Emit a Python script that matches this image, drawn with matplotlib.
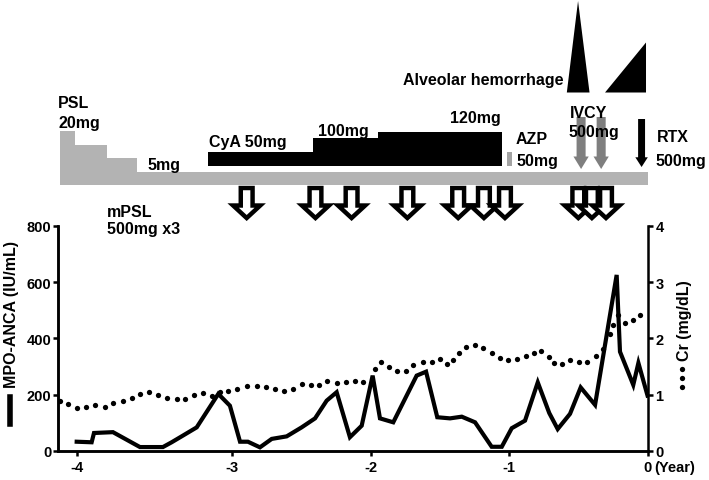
"""
Clinical course: treatment timeline (top) with MPO-ANCA and serum Cr (bottom)
"""

from matplotlib import pyplot as plt
from matplotlib.lines import Line2D

plt.rcParams['font.family'] = ['Liberation Sans', 'DejaVu Sans']
plt.rcParams['font.weight'] = 'bold'

# ---- lab values (x in years before last visit) ----
anca_x = [-4.124, -4.016, -3.999, -3.862, -3.667, -3.501, -3.438, -3.366,
          -3.257, -3.101, -3.017, -2.944, -2.887, -2.800, -2.715, -2.607,
          -2.499, -2.402, -2.318, -2.246, -2.150, -2.065, -1.986, -1.933,
          -1.837, -1.668, -1.600, -1.519, -1.427, -1.342, -1.246, -1.126,
          -1.053, -0.981, -0.885, -0.793, -0.710, -0.649, -0.560, -0.483,
          -0.379, -0.223, -0.199, -0.103, -0.066, 0.0]
anca_y = [33, 31, 64, 67, 14, 14, 31, 52, 84, 203, 161, 33, 33, 13, 43, 52,
          84, 116, 179, 209, 49, 90, 268, 116, 102, 268, 282, 120, 116, 122,
          102, 15, 15, 81, 108, 244, 135, 78, 132, 226, 164, 626, 353, 235,
          313, 197]

cr_x = [-4.245, -4.185, -4.121, -4.057, -3.992, -3.920, -3.860, -3.788,
        -3.727, -3.667, -3.600, -3.535, -3.474, -3.402, -3.342, -3.275,
        -3.210, -3.149, -3.089, -3.029, -2.964, -2.896, -2.824, -2.756,
        -2.691, -2.626, -2.564, -2.499, -2.434, -2.374, -2.314, -2.246,
        -2.178, -2.113, -2.053, -1.969, -1.928, -1.866, -1.812, -1.745,
        -1.692, -1.624, -1.559, -1.499, -1.447, -1.403, -1.360, -1.311,
        -1.246, -1.186, -1.126, -1.066, -1.010, -0.945, -0.878, -0.818,
        -0.769, -0.714, -0.673, -0.616, -0.560, -0.497, -0.435, -0.372,
        -0.319, -0.271, -0.247, -0.211, -0.163, -0.103, -0.054]
cr_y = [0.89, 0.84, 0.76, 0.79, 0.82, 0.79, 0.85, 0.89, 0.95, 1.01, 1.05,
        1.00, 0.94, 0.92, 0.92, 0.99, 1.03, 0.98, 1.04, 1.07, 1.11, 1.16,
        1.16, 1.14, 1.10, 1.06, 1.10, 1.19, 1.18, 1.18, 1.25, 1.21, 1.23,
        1.25, 1.23, 1.46, 1.58, 1.49, 1.42, 1.42, 1.53, 1.58, 1.58, 1.64,
        1.54, 1.62, 1.75, 1.84, 1.89, 1.83, 1.74, 1.65, 1.61, 1.64, 1.68,
        1.75, 1.78, 1.67, 1.56, 1.54, 1.62, 1.59, 1.59, 1.69, 1.81, 2.08,
        2.24, 2.42, 2.28, 2.32, 2.42]

xtick_pos = [-4.124, -3, -2, -1, 0]
xtick_lab = ['-4', '-3', '-2', '-1', '0']

# ---- treatments ----
psl_start = [-4.245, -4.137, -3.905, -3.689]
psl_end = [-4.137, -3.905, -3.689, 0.0]
psl_dose = [20, 15, 10, 5]

cya_start = [-3.175, -2.417, -1.947]
cya_end = [-2.417, -1.947, -1.051]
cya_dose = [50, 100, 120]

azp_start, azp_end, azp_dose = -1.015, -0.979, 50

mpsl_pulse = [-2.896, -2.399, -2.138, -1.735, -1.368, -1.182, -1.030,
              -0.500, -0.402, -0.300]
ivcy_day = [-0.480, -0.335]
rtx_day = [-0.043]

hem_start = [-0.583, -0.307]
hem_peak = [-0.502, -0.011]
hem_end = [-0.419, -0.011]
hem_size = [91.5, 50]

XMIN = -4.257

fig = plt.figure(figsize=(7.09, 4.81), dpi=100)
ax = fig.add_axes([0.0822, 0.0603, 0.8311, 0.4678])
ax2 = ax.twinx()
top = fig.add_axes([0.0822, 0.5218, 0.8311, 0.4782])

# ---- lower panel ----
ax.plot(anca_x, anca_y, '-', color='black', lw=3, solid_joinstyle='miter',
        zorder=3)
ax2.plot(cr_x, cr_y, 'o', color='black', ms=3.8, mew=0)

ax.set_xlim(XMIN, 0)
ax.set_ylim(0, 800)
ax2.set_ylim(0, 4)
ax.set_yticks([0, 200, 400, 600, 800])
ax2.set_yticks([0, 1, 2, 3, 4])
ax.set_xticks(xtick_pos)
ax.set_xticklabels(xtick_lab)

for a in (ax, ax2):
    a.spines['top'].set_visible(False)
    for s in a.spines.values():
        s.set_linewidth(1.8)
    a.tick_params(direction='out', length=3.6, width=1.8, labelsize=10.5)
ax.spines['right'].set_visible(False)
ax.tick_params(axis='y', pad=1.5)
ax.tick_params(axis='x', pad=3)
ax2.tick_params(axis='y', pad=2)

ax.annotate('(Year)', xy=(0, 0), xycoords=('data', 'axes fraction'),
            xytext=(4.5, -6.6), textcoords='offset points', ha='left',
            va='top', fontsize=10.5)

fig.text(12 / 709, 1 - 388 / 481, 'MPO-ANCA (IU/mL)', rotation=90,
         ha='center', va='bottom', fontsize=11.5)
fig.add_artist(Line2D([10 / 709, 10 / 709], [1 - 398 / 481, 1 - 425 / 481],
                      lw=4, color='black', transform=fig.transFigure))
fig.text(684 / 709, 1 - 361 / 481, 'Cr (mg/dL)', rotation=90,
         ha='center', va='bottom', fontsize=11.5)
fig.add_artist(Line2D([682 / 709] * 3,
                      [1 - 370 / 481, 1 - 379 / 481, 1 - 388 / 481],
                      ls='none', marker='o', ms=3.8, mew=0, color='black',
                      transform=fig.transFigure))

# ---- top panel: treatment schematic (1 unit = 1 px) ----
top.set_xlim(XMIN, 0)
top.set_ylim(0, 230)
top.axis('off')

PSL_BASE, PSL_SCALE = 44, 2.7
CYA_BASE, CYA_SCALE = 63, 0.285

top.bar(psl_start, [PSL_SCALE * d for d in psl_dose],
        width=[e - s for s, e in zip(psl_start, psl_end)], bottom=PSL_BASE,
        align='edge', color='#b3b3b3', linewidth=0)
top.bar(cya_start, [CYA_SCALE * d for d in cya_dose],
        width=[e - s for s, e in zip(cya_start, cya_end)], bottom=CYA_BASE,
        align='edge', color='black', linewidth=0)
top.bar(azp_start, CYA_SCALE * azp_dose, width=azp_end - azp_start,
        bottom=CYA_BASE, align='edge', color='#a3a3a3', linewidth=0)

HEM_BASE = 136.5
for s, p, e, h in zip(hem_start, hem_peak, hem_end, hem_size):
    top.fill([s, p, e], [HEM_BASE, HEM_BASE + h, HEM_BASE], color='black',
             linewidth=0)


def block_arrow(x, y_from, y_to, style, **kw):
    top.annotate('', xy=(x, y_to), xytext=(x, y_from), annotation_clip=False,
                 arrowprops=dict(arrowstyle=style, shrinkA=0, shrinkB=0,
                                 mutation_scale=10, **kw))


for x in mpsl_pulse:
    block_arrow(x, 41, 11,
                'simple,head_length=0.9,head_width=1.95,tail_width=0.85',
                fc='white', ec='black', lw=3.2, joinstyle='miter')
for x in ivcy_day:
    block_arrow(x, 112, 60,
                'simple,head_length=0.9,head_width=1.1,tail_width=0.65',
                fc='#7f7f7f', ec='none', lw=0)
for x in rtx_day:
    block_arrow(x, 110, 62,
                'simple,head_length=0.7,head_width=0.9,tail_width=0.5',
                fc='black', ec='none', lw=0)

fs = 11.5
labels = [
    (-4.257, 127, 'PSL', 'left'),
    (-4.257, 107, '20mg', 'left'),
    (-3.616, 65, '5mg', 'left'),
    (-3.168, 88, 'CyA 50mg', 'left'),
    (-2.381, 99, '100mg', 'left'),
    (-1.427, 112, '120mg', 'left'),
    (-0.950, 91, 'AZP', 'left'),
    (-0.950, 69, '50mg', 'left'),
    (-0.608, 150, 'Alveolar hemorrhage', 'right'),
    (-0.560, 117, 'IVCY', 'left'),
    (-0.574, 98, '500mg', 'left'),
    (0.066, 93, 'RTX', 'left'),
    (0.061, 69, '500mg', 'left'),
    (-3.905, 18, 'mPSL', 'left'),
    (-3.905, 1, '500mg x3', 'left'),
]
for x, y, t, ha in labels:
    top.text(x, y, t, ha=ha, va='center', fontsize=fs, clip_on=False)

plt.savefig('out.png', dpi=100)
